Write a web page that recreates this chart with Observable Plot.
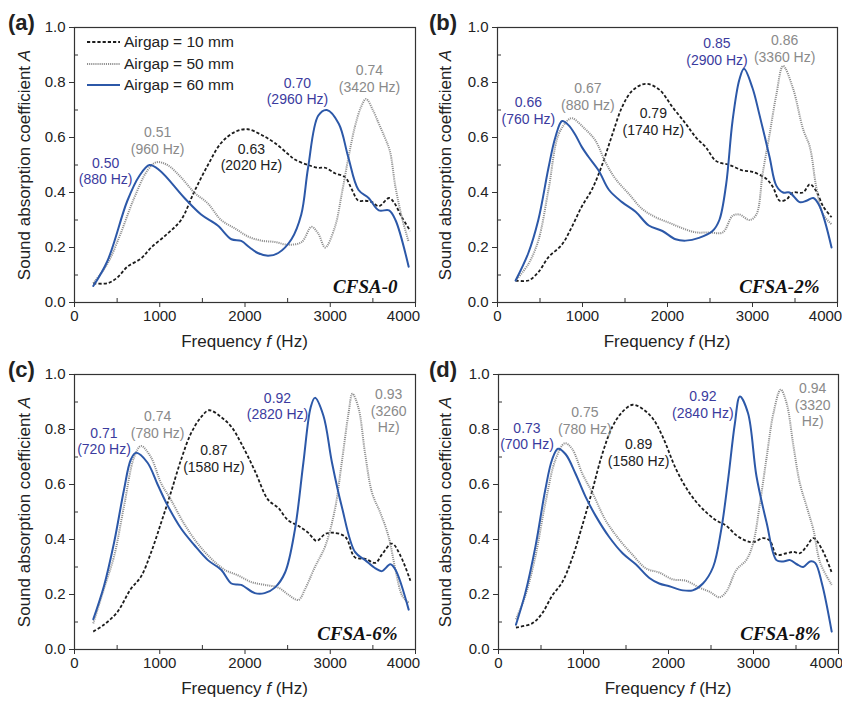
<!DOCTYPE html>
<html><head><meta charset="utf-8">
<script src="https://cdn.jsdelivr.net/npm/d3@7"></script>
<script src="https://cdn.jsdelivr.net/npm/@observablehq/plot@0.6"></script>
<style>
body{margin:0;background:#fff;}
#wrap{position:relative;width:842px;height:701px;font-family:"Liberation Sans",Arial,sans-serif;overflow:hidden;color:#222}
.panel{position:absolute;width:421px;height:350px}
.plab{position:absolute;font-weight:bold;font-size:22px;line-height:22px;transform:translateY(-50%)}
.xt{position:absolute;font-size:17px;transform:translate(-50%,-50%);white-space:nowrap}
.yt{position:absolute;font-size:17px;transform:translate(-50%,-50%) rotate(-90deg);white-space:nowrap}
.leg{position:absolute;font-size:15.5px;display:flex;align-items:center;white-space:nowrap;transform:translateY(-50%)}
.leg svg{margin-right:4px}
</style></head>
<body><div id="wrap"></div>
<script>
// ---------- data: [frequency (Hz), absorption coefficient A] ----------
const a_10 = [[220,.07],[385,.07],[500,.09],[620,.13],[780,.16],[900,.20],[1090,.25],[1250,.30],[1400,.40],[1565,.50],[1720,.58],[1880,.62],[2035,.63],[2190,.61],[2350,.58],[2505,.54],[2585,.52],[2740,.50],[2860,.49],[2940,.49],[3055,.47],[3175,.455],[3255,.41],[3330,.37],[3410,.37],[3490,.365],[3570,.35],[3690,.38],[3745,.365],[3840,.31],[3940,.26]];
const a_50 = [[220,.07],[385,.14],[540,.25],[700,.38],[855,.48],[960,.51],[1090,.50],[1250,.455],[1405,.40],[1565,.36],[1720,.30],[1880,.27],[2035,.24],[2190,.225],[2350,.22],[2505,.21],[2665,.22],[2780,.275],[2860,.25],[2940,.20],[3055,.275],[3135,.395],[3215,.53],[3290,.64],[3360,.71],[3420,.74],[3500,.70],[3570,.65],[3640,.60],[3700,.55],[3765,.42],[3840,.31],[3920,.22]];
const a_60 = [[220,.06],[385,.15],[620,.37],[760,.46],[880,.50],[1000,.48],[1290,.38],[1485,.32],[1680,.28],[1840,.23],[1955,.224],[2055,.20],[2150,.18],[2270,.17],[2390,.18],[2545,.23],[2660,.32],[2740,.49],[2860,.68],[2960,.70],[3100,.65],[3210,.53],[3330,.41],[3450,.38],[3570,.335],[3690,.335],[3765,.30],[3920,.13]];

const b_10 = [[213,.08],[363,.08],[480,.11],[600,.165],[757,.21],[875,.275],[993,.35],[1110,.41],[1230,.50],[1350,.61],[1465,.71],[1585,.77],[1740,.795],[1900,.775],[2060,.71],[2215,.65],[2335,.60],[2450,.565],[2570,.515],[2730,.50],[2885,.48],[3000,.475],[3160,.45],[3240,.42],[3320,.37],[3400,.375],[3475,.40],[3595,.40],[3675,.43],[3750,.405],[3830,.35],[3930,.31]];
const b_50 = [[213,.08],[363,.14],[480,.225],[600,.41],[717,.61],[835,.665],[880,.67],[1033,.63],[1150,.59],[1270,.51],[1387,.45],[1545,.395],[1703,.34],[1860,.31],[2020,.29],[2175,.27],[2335,.255],[2490,.255],[2650,.255],[2765,.315],[2845,.32],[2965,.30],[3045,.32],[3120,.47],[3200,.61],[3280,.755],[3360,.86],[3475,.78],[3595,.63],[3675,.565],[3750,.42],[3830,.32],[3930,.285]];
const b_60 = [[213,.08],[363,.18],[480,.30],[600,.49],[680,.60],[760,.66],[835,.645],[915,.61],[993,.565],[1070,.53],[1190,.48],[1310,.41],[1465,.365],[1625,.33],[1780,.28],[1940,.26],[2095,.23],[2215,.225],[2370,.235],[2530,.26],[2610,.30],[2690,.43],[2765,.66],[2845,.81],[2900,.85],[3000,.78],[3080,.685],[3200,.53],[3280,.425],[3360,.40],[3435,.40],[3555,.365],[3635,.37],[3715,.38],[3790,.35],[3930,.20]];

const c_10 = [[220,.065],[345,.09],[500,.135],[660,.22],[780,.265],[895,.35],[1015,.46],[1130,.57],[1250,.69],[1365,.785],[1485,.845],[1580,.87],[1720,.845],[1840,.81],[1955,.75],[2115,.65],[2270,.545],[2390,.515],[2505,.47],[2625,.45],[2740,.425],[2840,.395],[2940,.42],[3020,.425],[3175,.41],[3290,.335],[3410,.33],[3530,.315],[3605,.345],[3725,.385],[3825,.34],[3940,.25]];
const c_50 = [[220,.095],[345,.22],[465,.34],[580,.52],[700,.70],[780,.74],[895,.70],[1015,.605],[1130,.545],[1290,.455],[1445,.385],[1605,.33],[1760,.29],[1915,.27],[2075,.245],[2230,.235],[2390,.225],[2505,.20],[2625,.18],[2705,.22],[2820,.30],[2940,.375],[3055,.51],[3135,.68],[3215,.86],[3260,.93],[3330,.88],[3410,.71],[3490,.57],[3590,.495],[3685,.41],[3765,.29],[3845,.195],[3920,.17]];
const c_60 = [[220,.11],[345,.23],[465,.39],[580,.58],[660,.69],[720,.715],[855,.68],[975,.60],[1090,.525],[1250,.44],[1405,.38],[1565,.325],[1720,.29],[1840,.24],[1955,.235],[2115,.205],[2230,.205],[2350,.225],[2470,.28],[2585,.435],[2685,.68],[2770,.88],[2820,.915],[2920,.85],[3020,.68],[3135,.52],[3290,.355],[3410,.325],[3530,.295],[3605,.285],[3705,.31],[3765,.29],[3920,.145]];

const d_10 = [[205,.08],[395,.095],[510,.13],[630,.195],[750,.245],[865,.33],[985,.45],[1105,.58],[1220,.71],[1340,.81],[1460,.865],[1580,.89],[1695,.875],[1815,.84],[1930,.775],[2090,.655],[2245,.57],[2405,.51],[2560,.47],[2680,.45],[2800,.415],[2915,.395],[2995,.39],[3115,.405],[3195,.395],[3270,.345],[3390,.35],[3470,.355],[3545,.35],[3625,.375],[3705,.405],[3805,.365],[3920,.28]];
const d_50 = [[205,.11],[315,.195],[435,.34],[550,.53],[670,.69],[780,.75],[865,.73],[985,.64],[1105,.57],[1260,.47],[1420,.40],[1575,.345],[1735,.295],[1890,.28],[2050,.255],[2205,.25],[2365,.225],[2485,.21],[2600,.19],[2680,.21],[2800,.29],[2915,.325],[2995,.385],[3075,.53],[3155,.70],[3235,.86],[3320,.945],[3390,.895],[3470,.74],[3545,.605],[3625,.52],[3705,.435],[3785,.315],[3920,.235]];
const d_60 = [[205,.09],[315,.205],[435,.375],[550,.58],[630,.69],[700,.73],[790,.71],[905,.64],[1025,.555],[1145,.485],[1300,.41],[1460,.35],[1615,.31],[1775,.26],[1890,.24],[2010,.23],[2170,.215],[2285,.215],[2405,.24],[2525,.30],[2620,.435],[2700,.615],[2780,.82],[2840,.92],[2935,.86],[3035,.63],[3155,.46],[3270,.325],[3350,.32],[3430,.325],[3510,.31],[3585,.30],[3665,.32],[3725,.315],[3805,.24],[3920,.065]];

// peak annotations: [series, text]
const a_notes = [["60","0.50\n(880 Hz)"],["50","0.51\n(960 Hz)"],["10","0.63\n(2020 Hz)"],["60","0.70\n(2960 Hz)"],["50","0.74\n(3420 Hz)"]];
const b_notes = [["60","0.66\n(760 Hz)"],["50","0.67\n(880 Hz)"],["10","0.79\n(1740 Hz)"],["60","0.85\n(2900 Hz)"],["50","0.86\n(3360 Hz)"]];
const c_notes = [["60","0.71\n(720 Hz)"],["50","0.74\n(780 Hz)"],["10","0.87\n(1580 Hz)"],["60","0.92\n(2820 Hz)"],["50","0.93\n(3260\nHz)"]];
const d_notes = [["60","0.73\n(700 Hz)"],["50","0.75\n(780 Hz)"],["10","0.89\n(1580 Hz)"],["60","0.92\n(2840 Hz)"],["50","0.94\n(3320\nHz)"]];

const panelTags = ["(a)","(b)","(c)","(d)"];
const sampleNames = ["CFSA-0","CFSA-2%","CFSA-6%","CFSA-8%"];
const seriesNames = ["Airgap = 10 mm","Airgap = 50 mm","Airgap = 60 mm"];
const xMajor = [0,1000,2000,3000,4000];
const xMinor = [500,1500,2500,3500];
const yMajor = [0,0.2,0.4,0.6,0.8,1.0];
const yMinor = [0.1,0.3,0.5,0.7,0.9];

// ---------- layout / style ----------
// label anchor placement (data units) for each note, same order as notes
const notePlace = [
  [[365,.48],[975,.59],[2075,.53],[2615,.77],[3460,.816]],
  [[363,.70],[1064,.75],[1833,.66],[2582,.915],[3378,.924]],
  [[346,.76],[975,.82],[1635,.695],[2381,.887],[3686,.87]],
  [[335,.777],[1017,.834],[1648,.717],[2404,.892],[3697,.892]]
];
const col = {
  "10": {line:"#1c1c1c", text:"#222"},
  "50": {line:"#8f8f8f", text:"#8a8a8a"},
  "60": {line:"#2c58a8", text:"#3b3b9e"}
};
const dash = {"10": "3.2,2", "50": "1.1,1"};
const W = 421, H = 350, MT = 27, MB = 48;
const PH = H - MT - MB;
const panelsDef = [
  {left:0,   top:0,   ml:74, mr:6, s:[a_10,a_50,a_60], notes:a_notes},
  {left:421, top:0,   ml:76, mr:5, s:[b_10,b_50,b_60], notes:b_notes},
  {left:0,   top:347, ml:74, mr:6, s:[c_10,c_50,c_60], notes:c_notes},
  {left:421, top:347, ml:77, mr:4, s:[d_10,d_50,d_60], notes:d_notes}
];
const wrap = document.getElementById("wrap");

panelsDef.forEach((p, i) => {
  const PW = W - p.ml - p.mr;
  const notes = p.notes.map((n, j) => ({s:n[0], text:n[1], x:notePlace[i][j][0], y:notePlace[i][j][1]}));
  const chart = Plot.plot({
    width: W, height: H, marginLeft: p.ml, marginRight: p.mr, marginTop: MT, marginBottom: MB,
    x: {domain: [0, 4000]},
    y: {domain: [0, 1]},
    style: {fontFamily: '"Liberation Sans", Arial, sans-serif', fontSize: "15px", color: "#222", background: "transparent", overflow: "visible"},
    marks: [
      Plot.axisX({ticks: xMajor, tickSize: 5, tickPadding: 3, tickFormat: d => d === 4000 ? "" : String(d), label: null, stroke: "#333"}),
      Plot.axisX({ticks: [4000], tickSize: 0, tickPadding: 8, tickFormat: d => String(d), label: null, dx: -12}),
      Plot.axisY({ticks: yMajor, tickSize: 5, tickPadding: 4, tickFormat: d3.format(".1f"), label: null, stroke: "#333"}),
      Plot.tickX(xMinor, {x: d => d, insetTop: PH - 4, stroke: "#333"}),
      Plot.tickY(yMinor, {y: d => d, insetRight: PW - 4, stroke: "#333"}),
      Plot.frame({stroke: "#333", strokeWidth: 1.2}),
      Plot.line(p.s[0], {x: d => d[0], y: d => d[1], curve: "catmull-rom", stroke: col["10"].line, strokeWidth: 1.8, strokeDasharray: dash["10"], strokeLinecap: "butt"}),
      Plot.line(p.s[1], {x: d => d[0], y: d => d[1], curve: "catmull-rom", stroke: col["50"].line, strokeWidth: 2, strokeDasharray: dash["50"], strokeLinecap: "butt"}),
      Plot.line(p.s[2], {x: d => d[0], y: d => d[1], curve: "catmull-rom", stroke: col["60"].line, strokeWidth: 2}),
      Plot.text(notes, {x: "x", y: "y", text: "text", fill: d => col[d.s].text, fontSize: 14, lineHeight: 1.19, textAnchor: "middle"}),
      Plot.text([sampleNames[i]], {text: d => d, frameAnchor: "bottom-right", dx: -18, dy: -10, lineAnchor: "bottom",
        fontFamily: '"Liberation Serif", "Times New Roman", serif', fontWeight: "bold", fontStyle: "italic", fontSize: 19, fill: "#111"})
    ]
  });
  const div = document.createElement("div");
  div.className = "panel";
  div.style.left = p.left + "px";
  div.style.top = p.top + "px";
  div.appendChild(chart);
  wrap.appendChild(div);

  // panel tag
  const t = document.createElement("div");
  t.className = "plab";
  t.textContent = panelTags[i];
  t.style.left = (p.left + 8) + "px";
  t.style.top = (p.top + MT - 4) + "px";
  wrap.appendChild(t);

  // x title
  const xt = document.createElement("div");
  xt.className = "xt";
  xt.innerHTML = 'Frequency <i>f</i> (Hz)';
  xt.style.left = (p.left + p.ml + PW / 2) + "px";
  xt.style.top = (p.top + MT + PH + 40) + "px";
  wrap.appendChild(xt);

  // y title
  const yt = document.createElement("div");
  yt.className = "yt";
  yt.innerHTML = 'Sound absorption coefficient <i>A</i>';
  yt.style.left = (p.left + 25) + "px";
  yt.style.top = (p.top + MT + PH / 2) + "px";
  wrap.appendChild(yt);
});

// legend (panel a)
const legStyles = [
  {c: col["10"].line, w: 1.8, dash: dash["10"]},
  {c: col["50"].line, w: 2, dash: dash["50"]},
  {c: col["60"].line, w: 2, dash: null}
];
seriesNames.forEach((name, k) => {
  const el = document.createElement("div");
  el.className = "leg";
  el.style.left = "87px";
  el.style.top = (42 + k * 21.5) + "px";
  const st = legStyles[k];
  el.innerHTML = `<svg width="33" height="8"><line x1="0" x2="33" y1="4" y2="4" stroke="${st.c}" stroke-width="${st.w}" ${st.dash ? `stroke-dasharray="${st.dash}"` : ""}/></svg><span>${name}</span>`;
  wrap.appendChild(el);
});
</script>
</body></html>
